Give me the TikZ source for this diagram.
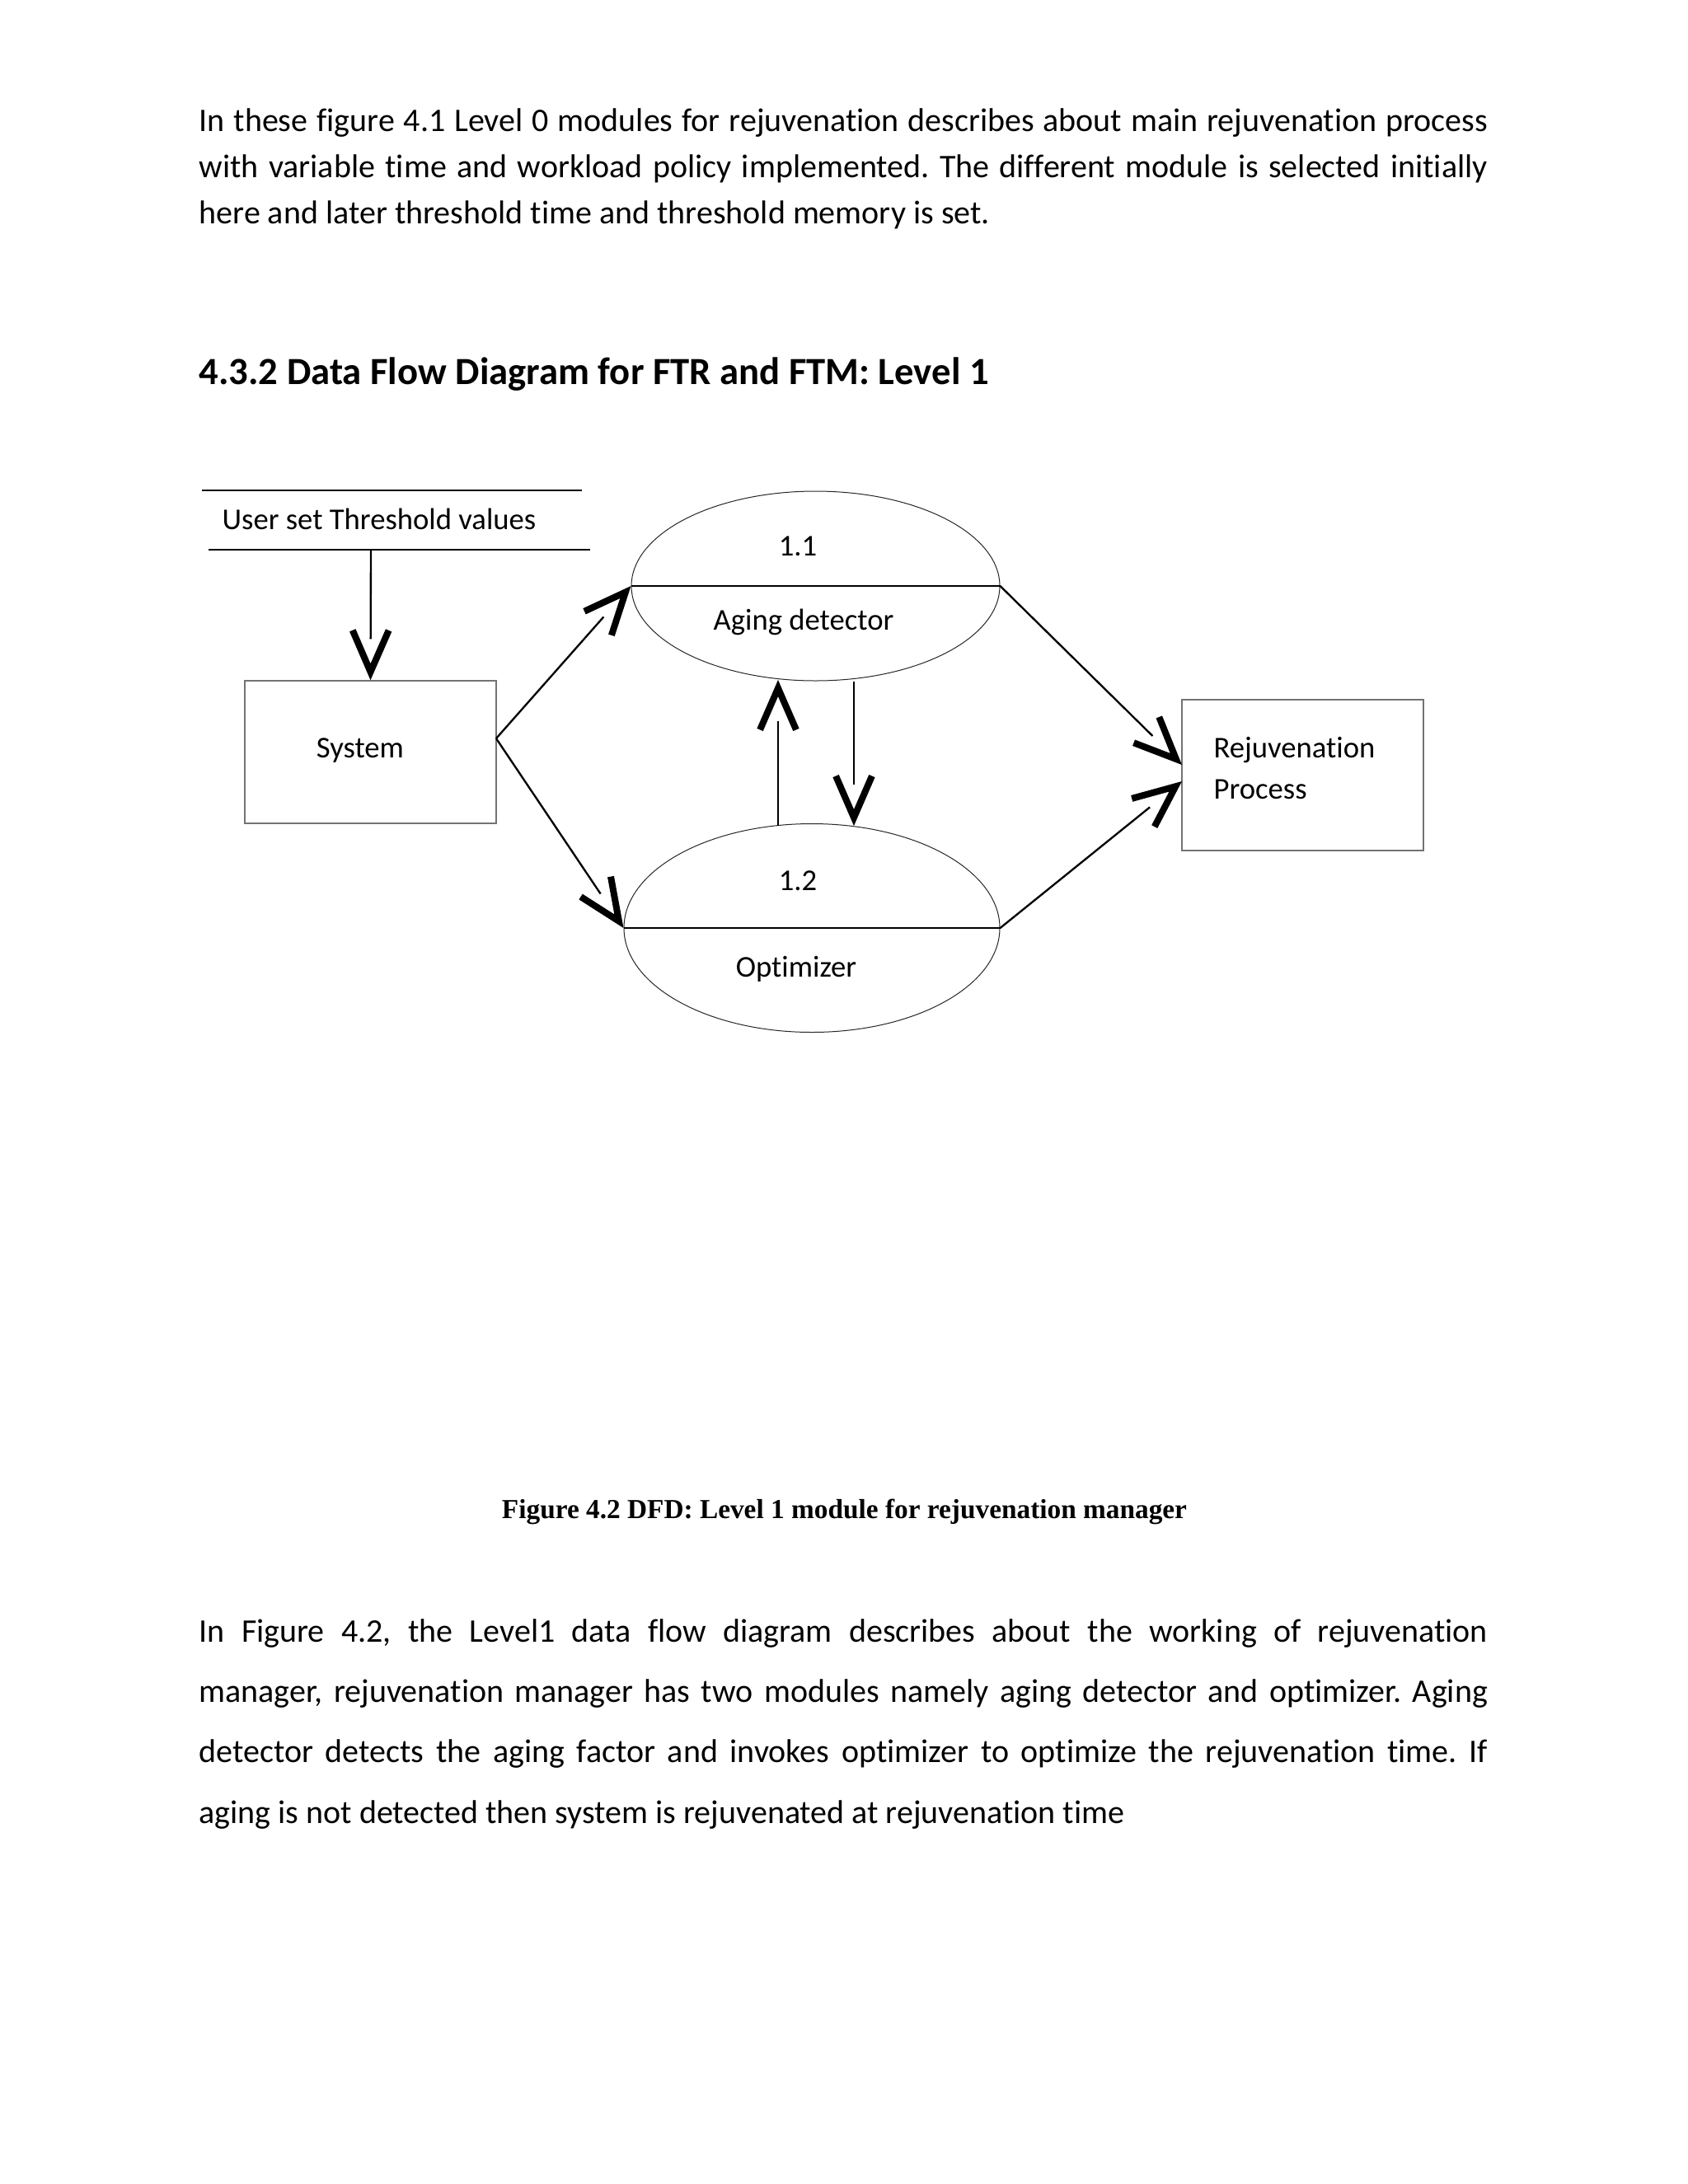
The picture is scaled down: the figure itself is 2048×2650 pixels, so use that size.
\documentclass[tikz,border=0pt]{standalone}
\usepackage{fontspec}
\setmainfont{Carlito}[Ligatures={NoCommon}]
\newfontfamily\capfont{Liberation Serif}
\usetikzlibrary{calc,shapes.geometric}
\frenchspacing

\newcommand{\dfdarrow}[2]{%
  \draw[shaft] (#1) -- (#2);
  \coordinate (apx) at ($(#2)!3pt!(#1)$);
  \draw[headstroke] ($(apx)!16.5pt!23.5:(#1)$) -- (apx) -- ($(apx)!16.5pt!-23.5:(#1)$);}

\begin{document}
\begin{tikzpicture}[x=0.3pt,y=-0.3pt,
  bodytext/.style={anchor=base west, inner sep=0pt, font=\fontsize{12}{14}\selectfont},
  dtext/.style={inner sep=0pt, font=\fontsize{11}{13}\selectfont},
  boxstyle/.style={draw=black!55, line width=0.45pt, inner sep=0pt},
  ellstyle/.style={ellipse, draw=black!85, line width=0.3pt, inner sep=0pt},
  divider/.style={line width=0.75pt},
  storeline/.style={line width=0.8pt},
  shaft/.style={line width=0.7pt, shorten >=15pt},
  headstroke/.style={line width=2.4pt, line join=miter, line cap=butt},
]
\useasboundingbox (0,0) rectangle (2048,2650);

% paragraph 1
\node[bodytext] (p1a) at (241,159) {\makebox[469pt][s]{In these figure 4.1 Level 0 modules for rejuvenation describes about main rejuvenation process}};
\node[bodytext] (p1b) at (241,215) {\makebox[469pt][s]{with variable time and workload policy implemented. The different module is selected initially}};
\node[bodytext] (p1c) at (241,271) {here and later threshold time and threshold memory is set.};

% heading
\node[anchor=base west, inner sep=0pt, font=\fontsize{14}{17}\selectfont\bfseries] (head) at (241,466) {4.3.2 Data Flow Diagram for FTR and FTM: Level 1};

% data store
\draw[storeline] (245,595) coordinate (st1) -- (706,595) coordinate (st2);
\draw[storeline] (253,667) coordinate (sb1) -- (716,667) coordinate (sb2);
\node[dtext, anchor=base west] (store) at (269,642) {User set Threshold values};
\coordinate (storeout) at (450,667);

% system
\node[boxstyle, minimum width=91.5pt, minimum height=51.9pt] (sys) at (449.5,912.5) {};
\node[dtext, anchor=base] (syslbl) at (437,919) {System};
\coordinate (sysout) at (602,896);

% processes
\node[ellstyle, minimum width=134.1pt, minimum height=69pt] (e1) at (989.5,711) {};
\node[ellstyle, minimum width=136.8pt, minimum height=75.9pt] (e2) at (985,1126) {};
\draw[divider] (e1.west) -- (e1.east);
\draw[divider] (e2.west) -- (e2.east);
\node[dtext, anchor=base] (n11) at (968,674) {1.1};
\node[dtext, anchor=base] (l11) at (975,764) {Aging detector};
\node[dtext, anchor=base] (n12) at (968,1080) {1.2};
\node[dtext, anchor=base] (l12) at (966,1185) {Optimizer};

% rejuvenation process
\node[boxstyle, minimum width=87.9pt, minimum height=54.9pt] (rej) at (1580.5,940.5) {};
\node[dtext, anchor=base west] (rejl1) at (1472,919) {Rejuvenation};
\node[dtext, anchor=base west] (rejl2) at (1472,969) {Process};
\coordinate (rejin1) at (1434,928);
\coordinate (rejin2) at (1434,948);

% connection points between processes
\coordinate (upfrom) at (944,1002);
\coordinate (upto) at (944,825);
\coordinate (downfrom) at (1036,827);
\coordinate (downto) at (1036,1002);

% flows
\dfdarrow{storeout}{sys.north}
\dfdarrow{sysout}{e1.west}
\dfdarrow{sysout}{e2.west}
\dfdarrow{upfrom}{upto}
\dfdarrow{downfrom}{downto}
\dfdarrow{e1.east}{rejin1}
\dfdarrow{e2.east}{rejin2}

% caption
\node[anchor=base, inner sep=0pt, font=\capfont\bfseries\fontsize{10}{12}\selectfont] (cap) at (1024.5,1842) {Figure 4.2 DFD: Level 1 module for rejuvenation manager};

% paragraph 2
\node[bodytext] (p2a) at (241,1992) {\makebox[469pt][s]{In Figure 4.2, the Level1 data flow diagram describes about the working of rejuvenation}};
\node[bodytext] (p2b) at (241,2065) {\makebox[469pt][s]{manager, rejuvenation manager has two modules namely aging detector and optimizer. Aging}};
\node[bodytext] (p2c) at (241,2138) {\makebox[469pt][s]{detector detects the aging factor and invokes optimizer to optimize the rejuvenation time. If}};
\node[bodytext] (p2d) at (241,2212) {aging is not detected then system is rejuvenated at rejuvenation time};
\end{tikzpicture}
\end{document}
